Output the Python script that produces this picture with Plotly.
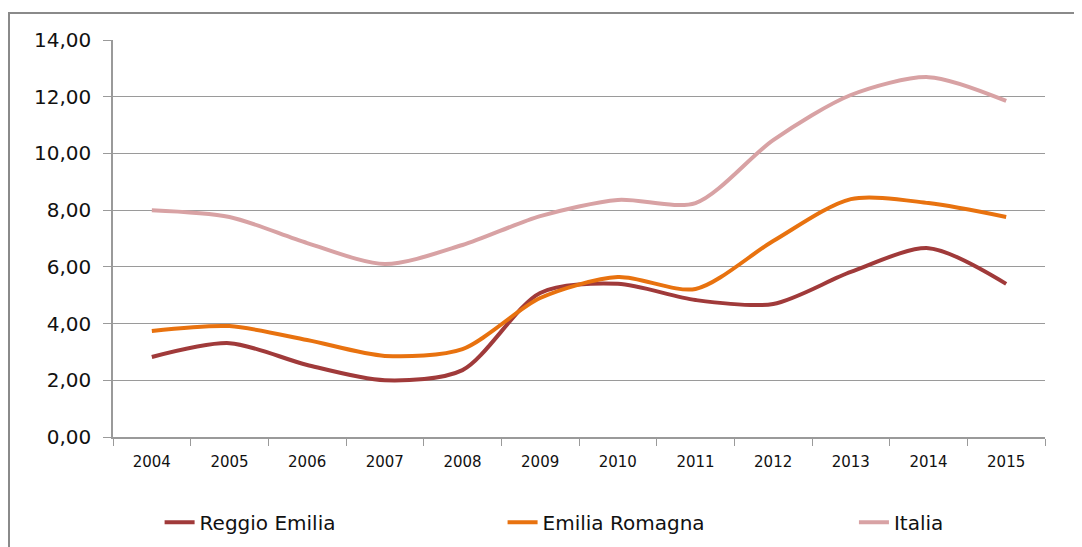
import plotly.graph_objects as go

years = ["2004", "2005", "2006", "2007", "2008", "2009", "2010", "2011", "2012", "2013", "2014", "2015"]
reggio_emilia = [2.82, 3.31, 2.54, 2.00, 2.36, 5.08, 5.40, 4.83, 4.69, 5.82, 6.66, 5.40]
emilia_romagna = [3.74, 3.91, 3.42, 2.86, 3.10, 4.90, 5.64, 5.22, 6.91, 8.39, 8.25, 7.76]
italia = [8.00, 7.76, 6.84, 6.10, 6.77, 7.79, 8.36, 8.25, 10.47, 12.06, 12.69, 11.85]

series = [
    ("Reggio Emilia", reggio_emilia, "#A03A3A", "legend", 0.050),
    ("Emilia Romagna", emilia_romagna, "#E8720F", "legend2", 0.418),
    ("Italia", italia, "#D8A2A4", "legend3", 0.795),
]

font = "DejaVu Sans, Verdana, sans-serif"

fig = go.Figure()
legends = {}
for name, vals, color, leg, lx in series:
    fig.add_trace(go.Scatter(
        x=years, y=vals, name=name, mode="lines", legend=leg,
        line=dict(color=color, width=4, shape="spline", smoothing=0.8),
    ))
    # one legend per series so the entries can be spread like the original
    legends[leg] = dict(
        orientation="h", x=lx, y=0.046, yref="container",
        xanchor="left", yanchor="middle",
        font=dict(size=20, family=font), bgcolor="rgba(0,0,0,0)",
    )

# page body has an 8px margin, so the figure is a bit smaller than the window
fig.update_layout(
    width=1074, height=539,
    margin=dict(l=105, r=37, t=32, b=110),
    plot_bgcolor="white", paper_bgcolor="white",
    separators=",.",
    font=dict(family=font, color="#111111"),
    showlegend=True,
    xaxis=dict(
        type="category", range=[-0.5, 11.5], automargin=False,
        showgrid=False, showline=True, linecolor="#9a9a9a", linewidth=1.5,
        ticks="outside", tickson="boundaries", ticklen=7, tickcolor="#9a9a9a",
        ticklabelstandoff=10, tickfont=dict(size=15, family=font),
    ),
    yaxis=dict(
        range=[0, 14], dtick=2, tickformat=".2f", automargin=False,
        showgrid=True, gridcolor="#9a9a9a", gridwidth=1.2,
        showline=True, linecolor="#9a9a9a", linewidth=1.5,
        ticks="outside", ticklen=8, tickcolor="#9a9a9a", ticklabelstandoff=8,
        tickfont=dict(size=20, family=font), zeroline=False,
    ),
    shapes=[dict(
        type="rect", xref="paper", yref="paper",
        x0=-104 / 932, x1=1.2, y0=-0.5, y1=1 + 27 / 397,
        line=dict(color="#8a8a8a", width=2), fillcolor="rgba(0,0,0,0)", layer="below",
    )],
    **legends,
)

fig.write_html("out.html")
